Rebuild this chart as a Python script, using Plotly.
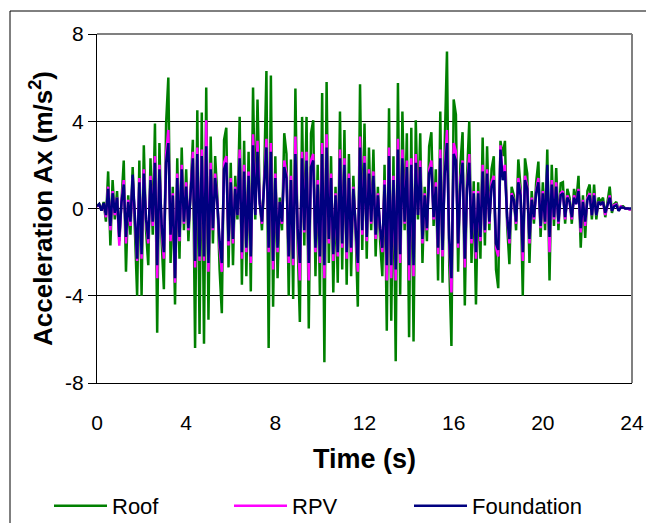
import plotly.graph_objects as go

# ---------------- data ----------------
time_step = 0.1
n_points = 241
time_s = [round(i * time_step, 1) for i in range(n_points)]

roof = [
    0.1, 0.2, -0.1, 0.3, -0.6, 1.7, -1.7, 1.3, -0.5, 0.8,
    -1.5, 0.5, 2.2, -2.9, 0.6, -1.2, 1.9, -1.0, -4.0, 2.2,
    -4.0, 2.9, -1.0, -2.6, 2.3, -1.2, 3.9, -5.7, 3.0, -1.5,
    -3.7, 3.9, 6.0, -2.5, 1.0, -4.4, 2.3, -2.3, 2.8, -1.0,
    1.8, -1.5, 1.2, 3.15, -6.4, 4.5, -5.75, 4.4, -6.2, 5.55,
    -5.1, 3.3, -1.6, 2.4, 0.5, -2.8, -4.8, 3.15, 3.7, -2.7,
    2.1, -2.6, 1.5, -0.5, 4.2, -3.5, 3.1, -3.1, 2.6, -3.8,
    5.55, -0.5, 5.0, 0.5, -1.0, 1.5, 6.3, -6.4, 6.1, -4.5,
    2.4, -3.2, 0.5, -1.0, 3.45, 2.5, -4.0, 2.25, -4.15, 5.5,
    -1.6, -5.2, 4.2, -1.7, 4.2, -5.5, 3.45, 4.05, -3.1, 2.0,
    -4.0, 5.3, -7.05, 5.8, -2.5, 2.4, -3.85, 1.0, -3.4, 4.45,
    -2.8, 3.6, -3.5, 2.5, -3.1, 1.5, -1.0, -4.5, 5.7, -1.9,
    3.9, -2.3, 2.8, -1.0, 2.7, -2.2, 1.0, -1.5, -3.1, 2.0,
    -5.6, 4.6, -5.15, 2.4, -7.0, 5.75, -3.95, 4.45, -1.0, 3.45,
    -5.9, 3.7, -6.1, 4.05, -0.5, 3.45, -2.5, 1.0, -1.5, 2.85,
    3.5, -0.8, 1.8, -3.3, 4.45, -3.4, 3.0, 7.2, -2.5, -6.3,
    5.0, 4.3, -2.9, 2.0, 3.5, -4.45, 1.5, 4.0, -2.5, 1.25,
    -4.4, 1.2, -2.3, 3.25, -1.7, 2.85, -1.0, 1.8, 2.4, -2.8,
    -3.65, 3.1, 2.4, 3.1, -0.8, -2.55, 1.0, 0.6, -1.0, 2.25,
    1.0, -4.0, 2.3, 1.6, -2.5, 0.8, -0.7, 1.2, 2.15, -1.3,
    1.2, -1.0, 2.7, -3.3, 2.0, -0.8, 1.85, -1.0, 1.15, 1.2,
    -0.7, 0.9, 0.5, -0.7, 0.9, 0.3, 1.5, -1.8, 0.6, -1.35,
    0.8, 1.1, -0.5, 1.1, -0.5, 0.5, 0.3, 0.5, -0.4, 0.3,
    1.0, -0.2, 0.2, 0.3, -0.1, 0.1, 0.1, 0.0, 0.0, -0.05,
    0.0,
]

rpv = [
    0.1, 0.15, -0.05, 0.2, -0.4, 1.0, -1.0, 0.8, -0.3, 0.5,
    -1.7, 0.4, 1.3, -1.6, 0.4, -0.8, 1.4, -0.6, -2.4, 1.4,
    -2.3, 1.8, -0.6, -1.6, 1.5, -0.8, 2.4, -3.2, 2.0, -1.0,
    -2.3, 2.5, 3.6, -1.5, 0.7, -3.4, 1.6, -1.5, 2.0, -0.7,
    1.2, -1.0, 0.9, 2.6, -2.7, 2.8, -2.4, 2.7, -2.4, 4.05,
    -2.9, 2.1, -1.0, 1.6, 0.3, -1.8, -2.9, 2.1, 2.4, -1.7,
    1.4, -1.6, 1.0, -0.3, 2.7, -2.3, 2.0, -2.0, 1.7, -2.5,
    3.4, -0.3, 3.1, 0.3, -0.7, 1.0, 3.2, -2.0, 3.0, -2.8,
    1.6, -2.0, 0.3, -0.7, 2.2, 1.6, -2.5, 1.5, -2.6, 3.3,
    -1.0, -3.3, 2.6, -1.1, 2.6, -3.3, 2.2, 2.5, -2.0, 1.3,
    -2.5, 3.0, -3.2, 3.4, -1.6, 1.6, -2.4, 0.7, -2.2, 2.7,
    -1.8, 2.3, -2.3, 1.6, -2.0, 1.0, -0.7, -2.9, 3.3, -1.2,
    2.4, -1.5, 1.8, -0.7, 1.7, -1.4, 0.7, -1.0, -2.0, 1.3,
    -3.3, 2.8, -3.2, 1.5, -3.3, 3.2, -2.5, 2.7, -0.7, 2.2,
    -3.3, 2.3, -3.1, 2.5, -0.3, 2.2, -1.6, 0.7, -1.0, 1.8,
    2.2, -0.5, 1.2, -2.1, 2.7, -2.2, 1.9, 3.6, -1.6, -3.85,
    3.0, 2.6, -1.8, 1.3, 2.2, -2.7, 1.0, 2.5, -1.6, 0.8,
    -2.3, 0.8, -1.5, 2.0, -1.1, 1.8, -0.7, 1.2, 1.5, -1.8,
    -2.2, 2.9, 1.5, 2.0, -0.5, -1.6, 0.7, 0.4, -0.7, 1.4,
    0.7, -2.4, 1.5, 1.0, -1.6, 0.5, -0.5, 0.8, 1.4, -0.9,
    0.8, -0.7, 1.7, -2.0, 1.3, -0.5, 1.2, -0.7, 0.7, 0.8,
    -0.5, 0.6, 0.3, -0.5, 0.6, 0.2, 0.9, -1.1, 0.4, -0.8,
    0.5, 0.7, -0.3, 0.7, -0.3, 0.3, 0.2, 0.3, -0.3, 0.2,
    0.6, -0.1, 0.15, 0.2, -0.1, 0.1, 0.05, 0.0, 0.0, -0.05,
    0.0,
]

foundation = [
    0.1, 0.2, -0.1, 0.25, -0.3, 0.9, -0.8, 0.7, -0.2, 0.5,
    -1.3, 0.3, 1.1, -1.3, 0.3, -0.6, 1.55, -0.5, -2.3, 1.2,
    -2.1, 1.6, -0.5, -1.4, 1.3, -0.6, 2.1, -2.6, 1.8, -0.8,
    -2.0, 2.1, 3.0, -1.2, 0.6, -3.2, 1.4, -1.3, 1.8, -0.6,
    1.0, -0.9, 0.8, 2.3, -2.4, 2.5, -2.2, 2.4, -2.2, 2.85,
    -2.5, 1.8, -0.9, 1.4, 0.2, -1.5, -2.5, 1.8, 2.1, -1.5,
    1.2, -1.4, 0.9, -0.3, 2.3, -2.0, 1.7, -1.8, 1.5, -2.2,
    2.9, -0.3, 2.6, 0.2, -0.6, 0.9, 2.8, -1.8, 2.6, -2.4,
    1.4, -1.8, 0.3, -0.6, 1.9, 1.4, -2.2, 1.3, -2.3, 2.5,
    -0.9, -2.5, 2.3, -1.0, 2.2, -2.5, 1.9, 2.2, -1.8, 1.1,
    -2.2, 2.5, -2.6, 2.8, -1.4, 1.4, -2.1, 0.6, -2.0, 2.3,
    -1.6, 2.0, -2.0, 1.4, -1.8, 0.9, -0.6, -2.5, 2.8, -1.0,
    2.1, -1.3, 1.6, -0.6, 1.5, -1.2, 0.6, -0.9, -1.8, 1.1,
    -2.6, 2.4, -2.6, 1.3, -2.8, 2.7, -2.1, 2.3, -0.6, 1.9,
    -2.6, 2.0, -2.6, 2.1, -0.3, 1.9, -1.4, 0.6, -0.9, 1.6,
    1.9, -0.4, 1.0, -1.8, 2.3, -1.9, 1.6, 3.0, -1.4, -3.2,
    2.5, 2.2, -1.6, 1.1, 2.1, -2.3, 0.9, 2.1, -1.4, 0.7,
    -2.0, 0.7, -1.3, 1.7, -1.0, 1.6, -0.6, 1.0, 1.3, -1.6,
    -1.9, 2.7, 1.3, 1.7, -0.4, -1.4, 0.6, 0.4, -0.6, 1.2,
    0.6, -2.0, 1.3, 0.9, -1.4, 0.4, -0.4, 0.7, 1.2, -0.8,
    0.7, -0.6, 2.0, -1.3, 1.1, -0.4, 1.0, -0.6, 0.6, 0.7,
    -0.4, 0.5, 0.3, -0.4, 0.5, 0.2, 0.8, -0.9, 0.3, -0.6,
    0.4, 0.6, -0.3, 0.6, -0.3, 0.3, 0.2, 0.3, -0.2, 0.2,
    0.5, -0.1, 0.1, 0.15, -0.1, 0.05, 0.05, 0.0, 0.0, 0.0,
    0.0,
]

series_names = ["Roof", "RPV", "Foundation"]
series_colors = ["#008000", "#FF00FF", "#000080"]

x_tick_vals = [0, 4, 8, 12, 16, 20, 24]
x_tick_text = ["0", "4", "8", "12", "16", "20", "24"]
y_tick_vals = [-8, -4, 0, 4, 8]
y_tick_text = ["-8", "-4", "0", "4", "8"]

# ---------------- figure ----------------
W, H = 646, 523
L, R, T, B = 97, 14, 34, 140
pw, ph = W - L - R, H - T - B


def px_x(px):
    return (px - L) / pw


def px_y(py):
    return (H - B - py) / ph


fig = go.Figure()
for name, vals, col in zip(series_names, [roof, rpv, foundation], series_colors):
    fig.add_trace(go.Scatter(
        x=time_s, y=vals, mode="lines", name=name,
        line=dict(color=col, width=2.5),
    ))

font_family = "Liberation Sans, Arial, sans-serif"

fig.update_layout(
    width=W, height=H,
    margin=dict(l=L, r=R, t=T, b=B, pad=0, autoexpand=False),
    paper_bgcolor="white", plot_bgcolor="white",
    font=dict(family=font_family, size=21, color="black"),
    showlegend=True,
    legend=dict(
        orientation="h",
        x=px_x(49), y=px_y(485), xanchor="left", yanchor="top",
        font=dict(size=22, family=font_family),
        entrywidth=112, entrywidthmode="pixels",
        bgcolor="rgba(0,0,0,0)", borderwidth=0,
        tracegroupgap=0, itemwidth=53,
    ),
    xaxis=dict(
        range=[0, 24], tickvals=x_tick_vals, ticktext=x_tick_text,
        showgrid=False, zeroline=False,
        showline=True, linecolor="black", linewidth=1,
        ticks="", tickfont=dict(size=21), ticklabelstandoff=21,
        automargin=False,
        title=dict(text="<b>Time (s)</b>", font=dict(size=27), standoff=15),
    ),
    yaxis=dict(
        range=[-8, 8], tickvals=y_tick_vals, ticktext=y_tick_text,
        showgrid=True, gridcolor="black", gridwidth=1,
        zeroline=False,
        showline=True, linecolor="black", linewidth=1,
        ticks="outside", ticklen=8, tickcolor="black", tickwidth=1,
        tickfont=dict(size=21), automargin=False,
        title=dict(text="<b>Acceleration Ax (m/s<sup>2</sup>)</b>",
                   font=dict(size=26), standoff=5),
    ),
    shapes=[
        # gray top and right border of plot area
        dict(type="line", xref="paper", yref="paper", x0=0, x1=1, y0=1, y1=1,
             line=dict(color="#808080", width=2)),
        dict(type="line", xref="paper", yref="paper", x0=1, x1=1, y0=0, y1=1,
             line=dict(color="#808080", width=2)),
        # outer chart border (top and left)
        dict(type="line", xref="paper", yref="paper",
             x0=px_x(10), x1=px_x(650), y0=px_y(11), y1=px_y(11),
             line=dict(color="black", width=1)),
        dict(type="line", xref="paper", yref="paper",
             x0=px_x(10), x1=px_x(10), y0=px_y(11), y1=px_y(530),
             line=dict(color="black", width=1)),
    ],
)

fig.write_html("out.html", config={"displayModeBar": False},
               post_script="document.body.style.margin='0';")
